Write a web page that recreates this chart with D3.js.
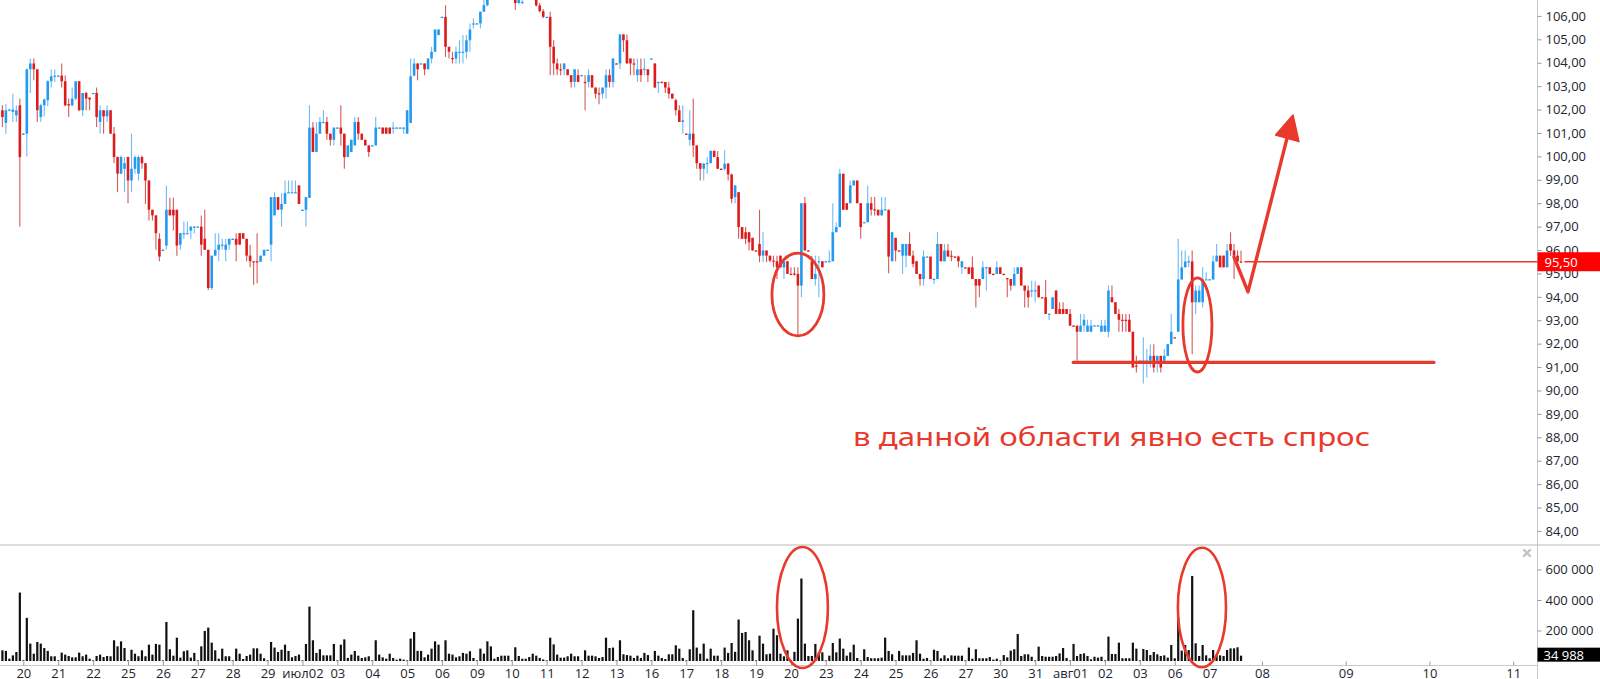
<!DOCTYPE html>
<html><head><meta charset="utf-8">
<script src="https://cdn.jsdelivr.net/npm/d3@7"></script>
<style>
body{margin:0;background:#fff;}
svg{display:block;}
.axis text{font-family:"Open Sans",sans-serif;font-size:13px;fill:#1c2630;}
</style>
</head><body>
<svg id="chart" width="1600" height="679"></svg>
<script>
// ---------- DATA ----------
// day labels (first candle of each trading day), hourly candles, 10 per day
const dayLabels = ["20","21","22","25","26","27","28","29","июл02","03","04","05","06","09","10","11","12","13","16","17","18","19","20","23","24","25","26","27","30","31","авг01","02","03","06","07"];
const futureLabels = ["08","09","10","11"];
const candlesPerDay = 10;
const firstDayStart = 6;      // index of first candle of "20"
const hoursToMidnight = 6;    // after last candle
const hoursPerDay = 24;

const priceTicks = [84,85,86,87,88,89,90,91,92,93,94,95,96,97,98,99,100,101,102,103,104,105,106];
const volumeTicks = [200000,400000,600000];
const lastPrice = 95.50;
const lastVolume = 34988;

// [open, high, low, close]
const candles = [
// Jun 19 (partial)
[101.97,102.18,101.26,101.68],[101.43,102.25,100.97,101.97],[101.97,102.04,101.93,102.00],[101.90,102.68,101.47,102.00],[101.75,102.18,101.47,101.97],[102.18,102.47,97.00,99.97],
// Jun 20
[100.97,101.00,100.94,100.97],[100.97,103.75,100.00,103.72],[103.72,104.18,102.71,103.97],[103.97,104.18,103.25,103.72],[103.72,103.72,101.47,101.97],[101.68,102.25,101.47,102.18],[102.18,102.47,101.71,102.43],[102.40,103.25,102.14,103.21],[103.21,103.71,102.94,103.42],[103.42,103.71,103.18,103.45],
// Jun 21
[103.45,103.47,103.42,103.45],[103.45,103.97,102.94,103.21],[103.21,103.45,102.14,102.18],[102.23,102.47,101.68,102.17],[102.18,102.94,102.14,102.47],[102.47,103.21,102.40,103.21],[103.21,103.21,101.93,101.97],[101.97,102.71,101.71,102.71],[102.71,102.75,101.97,102.47],[102.51,102.51,101.97,102.43],
// Jun 22
[102.68,102.71,102.68,102.71],[102.71,102.94,101.26,101.68],[101.47,102.18,100.97,101.97],[101.97,101.97,100.97,101.71],[101.71,102.18,101.47,101.97],[101.97,101.97,100.97,100.97],[100.97,101.26,99.71,99.97],[99.97,100.00,98.47,99.26],[99.26,100.04,99.26,99.97],[99.47,99.97,98.47,99.71],
// Jun 25
[99.97,100.00,98.00,98.97],[98.97,100.97,98.47,99.47],[99.47,100.04,99.26,99.97],[99.26,100.04,98.97,99.97],[99.97,100.04,99.47,99.71],[99.71,99.71,97.97,98.97],[98.97,98.97,97.26,97.72],[97.72,97.72,97.26,97.48],[97.48,97.48,96.01,96.72],[96.48,96.72,95.52,95.72],
// Jun 26
[96.01,96.05,95.98,96.01],[96.19,98.76,96.01,97.72],[97.72,98.23,97.48,97.48],[97.72,98.23,96.83,97.48],[97.72,97.72,95.76,96.19],[96.23,96.72,96.01,96.72],[96.72,97.22,96.48,96.72],[96.72,97.22,96.70,96.72],[96.83,97.00,96.48,97.00],[97.00,97.02,96.72,97.00],
// Jun 27
[97.00,97.02,96.98,97.00],[97.00,97.48,95.76,96.23],[96.48,97.72,96.01,96.01],[96.01,96.01,94.29,94.38],[94.38,95.76,94.29,95.76],[95.76,96.72,95.76,96.01],[96.01,96.72,95.52,96.23],[96.23,96.48,96.01,96.23],[96.01,96.48,95.52,96.23],[96.23,96.48,96.01,96.48],
// Jun 28
[96.48,96.50,96.46,96.48],[96.48,96.72,95.52,96.23],[96.72,96.72,96.23,96.23],[96.72,96.72,96.48,96.48],[96.48,96.48,95.52,95.76],[95.76,96.23,95.26,95.52],[95.52,95.52,94.52,95.50],[95.52,96.72,94.58,95.50],[95.50,95.76,95.50,95.76],[95.76,96.01,95.76,96.01],
// Jun 29
[96.01,96.03,95.99,96.01],[96.23,98.26,95.52,98.26],[97.48,98.47,97.48,98.26],[98.26,98.26,97.72,97.72],[97.72,98.43,97.00,97.97],[97.97,98.97,97.97,98.43],[98.47,98.97,98.47,98.47],[98.47,98.97,98.47,98.47],[98.43,98.97,98.43,98.47],[98.76,98.76,97.97,97.97],
// Jul 02
[97.72,97.74,97.70,97.72],[97.72,98.26,97.00,98.26],[98.23,102.18,98.23,101.23],[101.23,101.47,100.19,100.19],[100.19,101.47,100.19,100.97],[100.97,101.68,100.97,101.47],[101.47,101.97,101.45,101.47],[101.47,101.68,100.71,100.97],[100.97,100.97,100.47,100.71],[100.71,101.23,100.47,101.23],
// Jul 03
[101.23,101.25,101.21,101.23],[101.23,102.18,100.47,100.97],[100.97,100.97,99.47,99.97],[99.97,100.47,99.97,100.47],[100.19,100.71,100.19,100.71],[100.47,101.68,100.47,101.47],[101.47,101.68,100.71,100.97],[100.97,100.97,100.71,100.71],[100.71,100.71,100.47,100.47],[100.47,100.47,99.97,100.19],
// Jul 04
[100.47,100.49,100.45,100.47],[100.47,101.68,100.47,101.23],[101.23,101.25,101.21,101.23],[101.23,101.23,100.97,100.97],[101.23,101.23,100.97,100.97],[101.23,101.23,100.97,100.97],[101.23,101.47,100.97,101.23],[101.23,101.25,101.21,101.23],[101.23,101.25,101.21,101.23],[101.23,101.26,100.97,101.23],
// Jul 05
[100.97,101.97,100.97,101.97],[101.43,104.18,101.43,103.42],[103.45,104.18,103.42,103.97],[103.97,103.97,103.25,103.72],[103.97,103.99,103.95,103.97],[103.97,103.97,103.47,103.72],[103.72,104.18,103.72,104.18],[104.18,104.68,103.97,104.47],[104.47,105.42,104.47,105.42],[105.18,105.42,105.18,105.42],
// Jul 06
[105.96,105.98,105.94,105.96],[105.96,106.46,104.25,104.68],[104.68,104.68,104.18,104.47],[104.20,104.47,103.97,104.18],[104.18,104.68,103.97,104.47],[104.45,104.96,103.97,104.47],[104.45,105.18,103.97,104.47],[104.47,105.18,104.18,104.96],[104.96,105.68,104.47,105.42],[105.66,105.89,105.46,105.68],
// Jul 09
[105.68,105.70,105.66,105.68],[105.68,106.18,105.46,106.18],[106.18,106.68,106.18,106.46],[106.46,106.80,106.40,106.70],[106.78,107.10,106.75,107.00],[107.00,107.30,106.90,107.20],[107.20,107.35,106.90,107.00],[107.00,107.40,106.95,107.25],[107.25,107.30,106.85,106.95],[106.95,107.10,106.80,106.90],
// Jul 10
[106.90,106.92,106.85,106.88],[106.88,107.00,106.25,106.55],[106.55,107.00,106.50,106.90],[106.55,106.80,106.50,106.60],[106.80,107.10,106.75,107.00],[107.00,107.20,106.80,106.90],[106.90,107.15,106.85,107.05],[106.95,107.05,106.40,106.45],[106.45,106.55,106.15,106.20],[106.20,106.30,105.90,105.96],
// Jul 11
[105.96,105.98,105.94,105.96],[105.96,106.18,103.47,104.68],[104.68,104.96,103.47,103.97],[103.97,104.18,103.47,103.72],[103.72,103.97,103.47,103.70],[103.72,103.97,103.47,103.97],[103.72,103.72,103.47,103.47],[103.47,103.47,102.94,103.18],[103.18,103.72,102.94,103.72],[103.47,103.72,103.18,103.18],
// Jul 12
[103.47,103.49,103.45,103.47],[103.18,103.47,101.97,103.16],[103.18,103.72,102.94,103.47],[103.47,103.47,102.94,102.94],[102.94,102.94,102.47,102.68],[102.70,102.94,102.23,102.68],[102.68,102.94,102.47,102.94],[102.94,103.72,102.47,103.47],[103.47,103.72,102.94,103.18],[103.18,104.18,102.94,104.18],
// Jul 13
[103.97,103.99,103.95,103.96],[103.97,105.21,103.72,105.21],[105.21,105.21,104.47,104.96],[104.96,105.21,103.97,103.97],[104.18,104.18,103.47,103.97],[103.97,104.18,103.47,103.95],[103.47,104.18,103.18,103.72],[103.72,104.18,103.18,103.47],[103.72,104.18,103.47,103.74],[103.72,103.72,103.18,103.47],
// Jul 16
[104.18,104.20,104.16,104.18],[103.97,103.97,102.94,102.94],[103.18,103.20,102.71,103.18],[103.18,103.20,103.16,103.16],[103.18,103.18,102.71,102.94],[102.94,103.18,102.47,102.68],[102.68,102.68,102.47,102.47],[102.40,102.47,101.75,101.97],[101.97,102.18,101.47,101.47],[101.47,102.18,100.97,101.54],
// Jul 17
[100.97,100.99,100.95,100.96],[100.71,101.97,100.47,100.97],[100.97,102.47,99.97,100.47],[100.47,100.47,99.47,99.71],[99.71,99.71,98.97,99.47],[99.47,99.72,98.97,99.69],[99.69,99.97,99.26,99.72],[99.72,100.26,99.69,100.23],[100.23,100.26,99.97,99.97],[99.97,100.23,99.47,99.47],
// Jul 18
[99.47,99.49,99.45,99.46],[99.47,100.26,99.40,99.69],[99.69,99.72,98.97,99.23],[99.23,99.26,98.00,98.19],[98.26,98.76,98.00,98.76],[98.47,98.47,96.48,96.98],[96.98,96.98,96.48,96.48],[96.76,96.98,96.26,96.48],[96.76,96.76,95.98,96.33],[96.52,96.52,95.98,95.98],
// Jul 19
[95.98,96.00,95.96,95.97],[96.26,97.72,95.48,95.76],[95.76,96.76,95.48,95.98],[95.98,95.98,95.48,95.76],[95.76,95.76,95.48,95.55],[95.55,95.76,95.26,95.52],[95.52,95.76,94.76,95.26],[95.76,95.76,95.26,95.26],[95.26,95.52,94.76,95.52],[95.52,95.52,94.98,94.98],
// Jul 20
[94.98,95.26,94.96,94.97],[95.00,95.26,94.90,94.98],[94.98,95.26,92.30,94.48],[94.48,98.00,93.98,98.00],[98.00,98.26,95.98,95.98],[95.98,96.00,95.96,95.97],[95.52,95.76,94.76,94.76],[94.76,95.76,94.48,94.98],[95.50,95.76,93.98,95.52],[95.52,95.52,95.26,95.26],
// Jul 23
[95.52,95.54,95.50,95.52],[95.52,95.98,95.50,95.53],[95.52,98.00,95.52,96.76],[96.76,97.19,96.76,96.98],[96.98,99.47,96.98,99.26],[99.26,99.26,97.72,97.72],[98.00,98.00,97.72,97.72],[98.00,98.97,98.00,98.76],[98.76,98.97,98.76,98.97],[98.97,98.97,98.00,98.00],
// Jul 24
[98.00,98.00,96.48,96.98],[97.19,97.21,97.17,97.19],[97.19,98.76,97.19,98.00],[98.00,98.26,97.48,97.72],[97.74,98.26,97.48,97.72],[97.72,97.72,97.48,97.48],[97.48,98.26,97.48,97.72],[97.72,98.26,97.70,97.74],[97.72,97.72,95.01,95.72],[95.52,96.76,95.52,96.76],
// Jul 25
[96.52,96.52,95.52,95.98],[95.98,96.00,95.96,95.97],[95.76,96.26,94.98,96.26],[95.76,96.26,95.26,96.26],[96.26,96.76,95.76,95.76],[95.76,95.98,95.26,95.41],[95.52,95.52,94.98,94.98],[94.98,94.98,94.48,94.76],[94.76,95.98,94.48,95.72],[95.72,95.74,95.70,95.72],
// Jul 26
[95.72,95.72,94.76,94.76],[94.76,94.78,94.55,94.77],[94.76,96.76,94.76,96.26],[96.26,96.26,95.52,95.52],[95.52,96.26,95.52,95.98],[95.98,96.26,95.72,95.72],[95.76,95.98,95.52,95.74],[95.72,95.74,95.70,95.71],[95.72,95.76,95.26,95.52],[95.26,95.52,94.98,95.52],
// Jul 27
[95.26,95.28,95.24,95.25],[95.26,95.26,94.98,94.98],[95.26,95.72,94.76,94.76],[94.76,94.76,93.55,94.48],[94.76,94.76,93.98,94.48],[94.76,95.52,94.76,95.26],[95.26,95.28,94.27,95.27],[95.26,95.26,94.98,94.98],[94.98,95.00,94.96,94.97],[94.98,95.52,94.98,95.26],
// Jul 30
[95.26,95.26,94.98,94.98],[94.98,95.00,94.96,94.97],[94.80,94.80,93.98,94.76],[94.76,94.76,94.27,94.48],[94.48,95.26,94.48,94.98],[94.98,95.26,94.98,95.26],[95.26,95.26,94.48,94.48],[94.48,94.48,93.55,94.27],[94.27,94.48,93.55,93.98],[94.27,94.69,93.98,94.28],
// Jul 31
[94.27,94.69,93.77,94.28],[94.48,94.48,93.98,93.98],[93.98,94.00,93.96,93.97],[93.98,94.72,93.27,93.27],[93.27,93.29,93.01,93.28],[93.48,93.98,93.48,93.98],[94.27,94.27,93.27,93.27],[93.48,93.77,93.27,93.27],[93.48,93.77,93.27,93.27],[93.48,93.48,93.27,93.27],
// Aug 01
[93.27,93.48,92.77,92.77],[92.77,92.79,92.75,92.76],[92.77,92.77,91.27,92.51],[92.51,93.27,92.51,92.77],[92.77,93.27,92.51,93.02],[92.51,93.02,92.51,92.77],[92.51,93.02,92.51,92.77],[92.77,92.79,92.75,92.78],[92.77,92.79,92.75,92.78],[92.51,93.02,92.51,92.77],
// Aug 02
[92.51,93.02,92.51,92.77],[92.51,94.48,92.27,94.27],[93.98,94.48,93.77,93.77],[93.77,93.77,93.27,93.27],[93.27,93.48,92.51,93.02],[93.02,93.27,92.51,93.00],[93.02,93.27,92.51,93.00],[93.02,93.27,92.51,92.51],[92.51,92.51,90.98,90.98],[91.06,91.48,90.77,91.05],
// Aug 03
[91.27,91.29,91.25,91.28],[91.27,92.27,90.30,91.28],[91.27,91.77,90.56,91.28],[91.27,91.98,90.98,91.48],[91.48,91.98,90.77,90.98],[91.27,91.48,90.77,91.48],[91.48,91.48,90.77,90.98],[91.27,91.77,91.27,91.48],[91.48,91.98,91.48,91.98],[91.98,93.27,91.98,92.51],
// Aug 06
[92.27,92.29,92.25,92.26],[92.51,96.48,92.51,94.74],[94.74,95.98,94.74,95.26],[95.26,95.98,95.26,95.51],[95.51,95.76,95.26,95.52],[95.51,95.98,91.55,93.77],[93.77,94.48,93.27,94.27],[93.77,94.48,93.77,94.27],[93.77,95.26,93.55,94.74],[94.74,95.05,94.74,94.75],
// Aug 07
[94.74,94.76,94.72,94.75],[94.74,95.76,94.74,95.51],[95.51,96.26,95.51,95.76],[95.76,95.76,95.26,95.26],[95.76,95.76,95.26,95.26],[95.26,96.26,95.26,95.98],[96.26,96.76,95.76,95.98],[95.98,96.26,94.76,95.76],[95.76,95.98,95.51,95.51],[95.51,95.98,95.49,95.50]
];

// volume per candle, thousands of shares
const volumeK = [
70,66,15,37,59,449,
5,283,114,48,125,114,85,66,31,31,
5,55,42,33,24,24,55,31,42,15,
4,33,42,26,33,31,136,96,129,85,
4,74,48,31,70,31,107,42,112,107,
4,256,77,35,153,22,64,70,22,53,
4,96,197,219,120,70,15,81,31,31,
4,81,48,13,33,42,83,83,48,18,
4,125,88,59,74,107,66,24,33,42,
4,112,357,136,53,77,37,37,37,112,
4,107,142,20,42,66,35,20,24,31,
4,136,42,24,15,48,20,9,15,9,
4,147,190,66,66,24,42,81,129,107,
4,136,48,42,24,31,53,48,64,20,
4,81,48,129,96,15,26,35,35,35,
4,90,33,15,15,26,48,35,20,10,
4,153,109,42,22,22,31,48,31,31,
4,70,35,35,31,20,26,153,85,88,
4,136,44,39,35,20,35,20,53,39,
4,66,35,20,13,44,44,103,81,20,
4,77,333,88,48,114,15,81,35,35,
4,88,53,118,60,272,184,190,136,70,
4,166,114,44,48,212,169,48,31,70,
4,60,278,541,114,33,33,112,57,57,
4,35,118,57,147,81,35,57,107,20,
4,77,26,18,18,18,22,153,66,44,
4,66,37,37,37,53,136,48,15,20,
4,74,66,18,37,18,37,35,35,35,
4,88,15,77,18,18,18,26,9,15,
4,39,24,68,77,177,33,44,44,28,
4,94,33,28,28,28,33,50,85,20,
4,112,33,46,50,33,11,28,22,28,
4,160,46,46,120,18,18,18,120,81,
4,79,72,39,59,44,33,37,22,105,
18,286,68,105,72,557,116,33,105,37,
18,72,39,37,33,72,83,83,90,34.988
];

// ---------- CHART ----------
const svg = d3.select("#chart");
const axisX = 1537.5;
const x = d3.scaleLinear().domain([0,440]).range([2.4,1537.6]);
const y = d3.scaleLinear().domain([83.4,106.68]).range([545,0]);
const yv = d3.scaleLinear().domain([0,600000]).range([661,569.5]);

const data = candles.map((d,i)=>({i,o:d[0],h:d[1],l:d[2],c:d[3],v:volumeK[i]*1000}));
const isUp = d => d.c >= d.o;

svg.append("defs").append("clipPath").attr("id","pclip")
  .append("rect").attr("x",0).attr("y",0).attr("width",axisX).attr("height",544);

// frame lines
svg.append("line").attr("x1",0).attr("x2",1600).attr("y1",545).attr("y2",545)
  .attr("stroke","#dcdcdc").attr("stroke-width",2);
svg.append("line").attr("x1",axisX).attr("x2",axisX).attr("y1",0).attr("y2",679)
  .attr("stroke","#c9c9c9").attr("stroke-width",1);
svg.append("line").attr("x1",0).attr("x2",axisX).attr("y1",665.5).attr("y2",665.5)
  .attr("stroke","#c9c9c9").attr("stroke-width",1);

// candles
const pg = svg.append("g").attr("clip-path","url(#pclip)");
pg.selectAll("line.wick").data(data).join("line").attr("class","wick")
  .attr("x1",d=>x(d.i)).attr("x2",d=>x(d.i))
  .attr("y1",d=>y(d.h)).attr("y2",d=>y(d.l))
  .attr("stroke",d=>isUp(d)?"#6fbaf5":"#d45a5a").attr("stroke-width",1.1);
pg.selectAll("rect.body").data(data).join("rect").attr("class","body")
  .attr("x",d=>x(d.i)-1.3).attr("width",2.6)
  .attr("y",d=>y(Math.max(d.o,d.c)))
  .attr("height",d=>Math.max(1.2,Math.abs(y(d.o)-y(d.c))))
  .attr("fill",d=>isUp(d)?"#2499f0":"#dc1c1c");

// volume bars
svg.append("g").selectAll("rect").data(data).join("rect")
  .attr("x",d=>x(d.i)-1.1).attr("width",2.2)
  .attr("y",d=>yv(d.v)).attr("height",d=>Math.max(0.8,yv(0)-yv(d.v)))
  .attr("fill","#111");

// price axis
const fmtP = v => d3.format(".2f")(v).replace(".",",");
const pa = svg.append("g").attr("class","axis").attr("transform",`translate(${axisX},0)`)
  .call(d3.axisRight(y).tickValues(priceTicks).tickFormat(fmtP).tickSize(4).tickSizeOuter(0).tickPadding(4));
pa.select(".domain").remove();
pa.selectAll("line").attr("stroke","#9a9a9a");

// volume axis
const fmtV = v => d3.format(",")(v).replace(/,/g," ");
const va = svg.append("g").attr("class","axis").attr("transform",`translate(${axisX},0)`)
  .call(d3.axisRight(yv).tickValues(volumeTicks).tickFormat(fmtV).tickSize(4).tickSizeOuter(0).tickPadding(4));
va.select(".domain").remove();
va.selectAll("line").attr("stroke","#9a9a9a");

// time axis
const lastIdx = candles.length-1;
const tickIdx = dayLabels.map((_,k)=>firstDayStart+k*candlesPerDay)
  .concat(futureLabels.map((_,k)=>lastIdx+hoursToMidnight+k*hoursPerDay));
const tickLbl = dayLabels.concat(futureLabels);
const xa = svg.append("g").attr("class","axis").attr("transform","translate(0,665.5)")
  .call(d3.axisBottom(x).tickValues(tickIdx).tickFormat((d,k)=>tickLbl[k]).tickSize(-4).tickSizeOuter(0).tickPadding(3));
xa.select(".domain").remove();
xa.selectAll("line").attr("stroke","#9a9a9a");

// last price / last volume markers
const red = "#e8392c";
svg.append("rect").attr("x",axisX).attr("y",y(lastPrice)-9.5).attr("width",1600-axisX).attr("height",19).attr("fill","#ff0000");
svg.append("text").attr("x",axisX+7).attr("y",y(lastPrice)+5).text(fmtP(lastPrice))
  .attr("font-family","Open Sans").attr("font-size",13).attr("fill","#fff");
svg.append("rect").attr("x",axisX).attr("y",yv(lastVolume)-8).attr("width",1600-axisX).attr("height",14).attr("fill","#000");
svg.append("text").attr("x",axisX+6).attr("y",yv(lastVolume)+4).text(fmtV(lastVolume))
  .attr("font-family","Open Sans").attr("font-size",13).attr("fill","#fff");

// close icon in volume pane
const ic = svg.append("g").attr("stroke","#c3c3c3").attr("stroke-width",2.4).attr("stroke-linecap","round");
ic.append("line").attr("x1",1524).attr("y1",550).attr("x2",1530).attr("y2",556);
ic.append("line").attr("x1",1530).attr("y1",550).attr("x2",1524).attr("y2",556);

// ---------- ANNOTATIONS ----------
const ann = svg.append("g").attr("fill","none").attr("stroke",red).attr("stroke-linecap","round").attr("stroke-linejoin","round");
const rx = di => x(di)-x(0);
const ry = dp => y(0)-y(dp);
const ryv = dv => yv(0)-yv(dv);
// price-pane ellipses
ann.append("ellipse").attr("cx",x(228)).attr("cy",y(94.1)).attr("rx",rx(7.45)).attr("ry",ry(1.77)).attr("stroke-width",2.8);
ann.append("ellipse").attr("cx",x(342.5)).attr("cy",y(92.8)).attr("rx",rx(4.16)).attr("ry",ry(2.01)).attr("stroke-width",2.8);
// volume-pane ellipses
ann.append("ellipse").attr("cx",x(229.3)).attr("cy",yv(351000)).attr("rx",rx(7.3)).attr("ry",ryv(397000)).attr("stroke-width",2.6);
ann.append("ellipse").attr("cx",x(343.8)).attr("cy",yv(351000)).attr("rx",rx(6.9)).attr("ry",ryv(392000)).attr("stroke-width",2.6);
// support line
ann.append("line").attr("x1",x(306.9)).attr("x2",x(410.3)).attr("y1",y(91.2)).attr("y2",y(91.2)).attr("stroke-width",3.2);
// last price line
ann.append("line").attr("x1",x(356.1)).attr("x2",axisX).attr("y1",y(lastPrice)).attr("y2",y(lastPrice)).attr("stroke-width",1.3);
// projected path + arrow
ann.append("path").attr("d",d3.line()([[x(353),y(95.7)],[x(357),y(94.21)],[x(368.2),y(100.79)]])).attr("stroke-width",3.4);
svg.append("path").attr("d",d3.line()([[x(369.9),y(101.77)],[x(364.9),y(100.91)],[x(371.6),y(100.63)]])+"Z")
  .attr("fill",red).attr("stroke",red).attr("stroke-width",1.5).attr("stroke-linejoin","round");
// caption
svg.append("text").attr("x",x(243.8)).attr("y",y(87.63))
  .attr("font-family","'Comic Sans MS','Noto Sans',sans-serif").attr("font-size",25)
  .attr("textLength",517).attr("lengthAdjust","spacingAndGlyphs")
  .attr("fill",red).text("в данной области явно есть спрос");
</script>
</body></html>
